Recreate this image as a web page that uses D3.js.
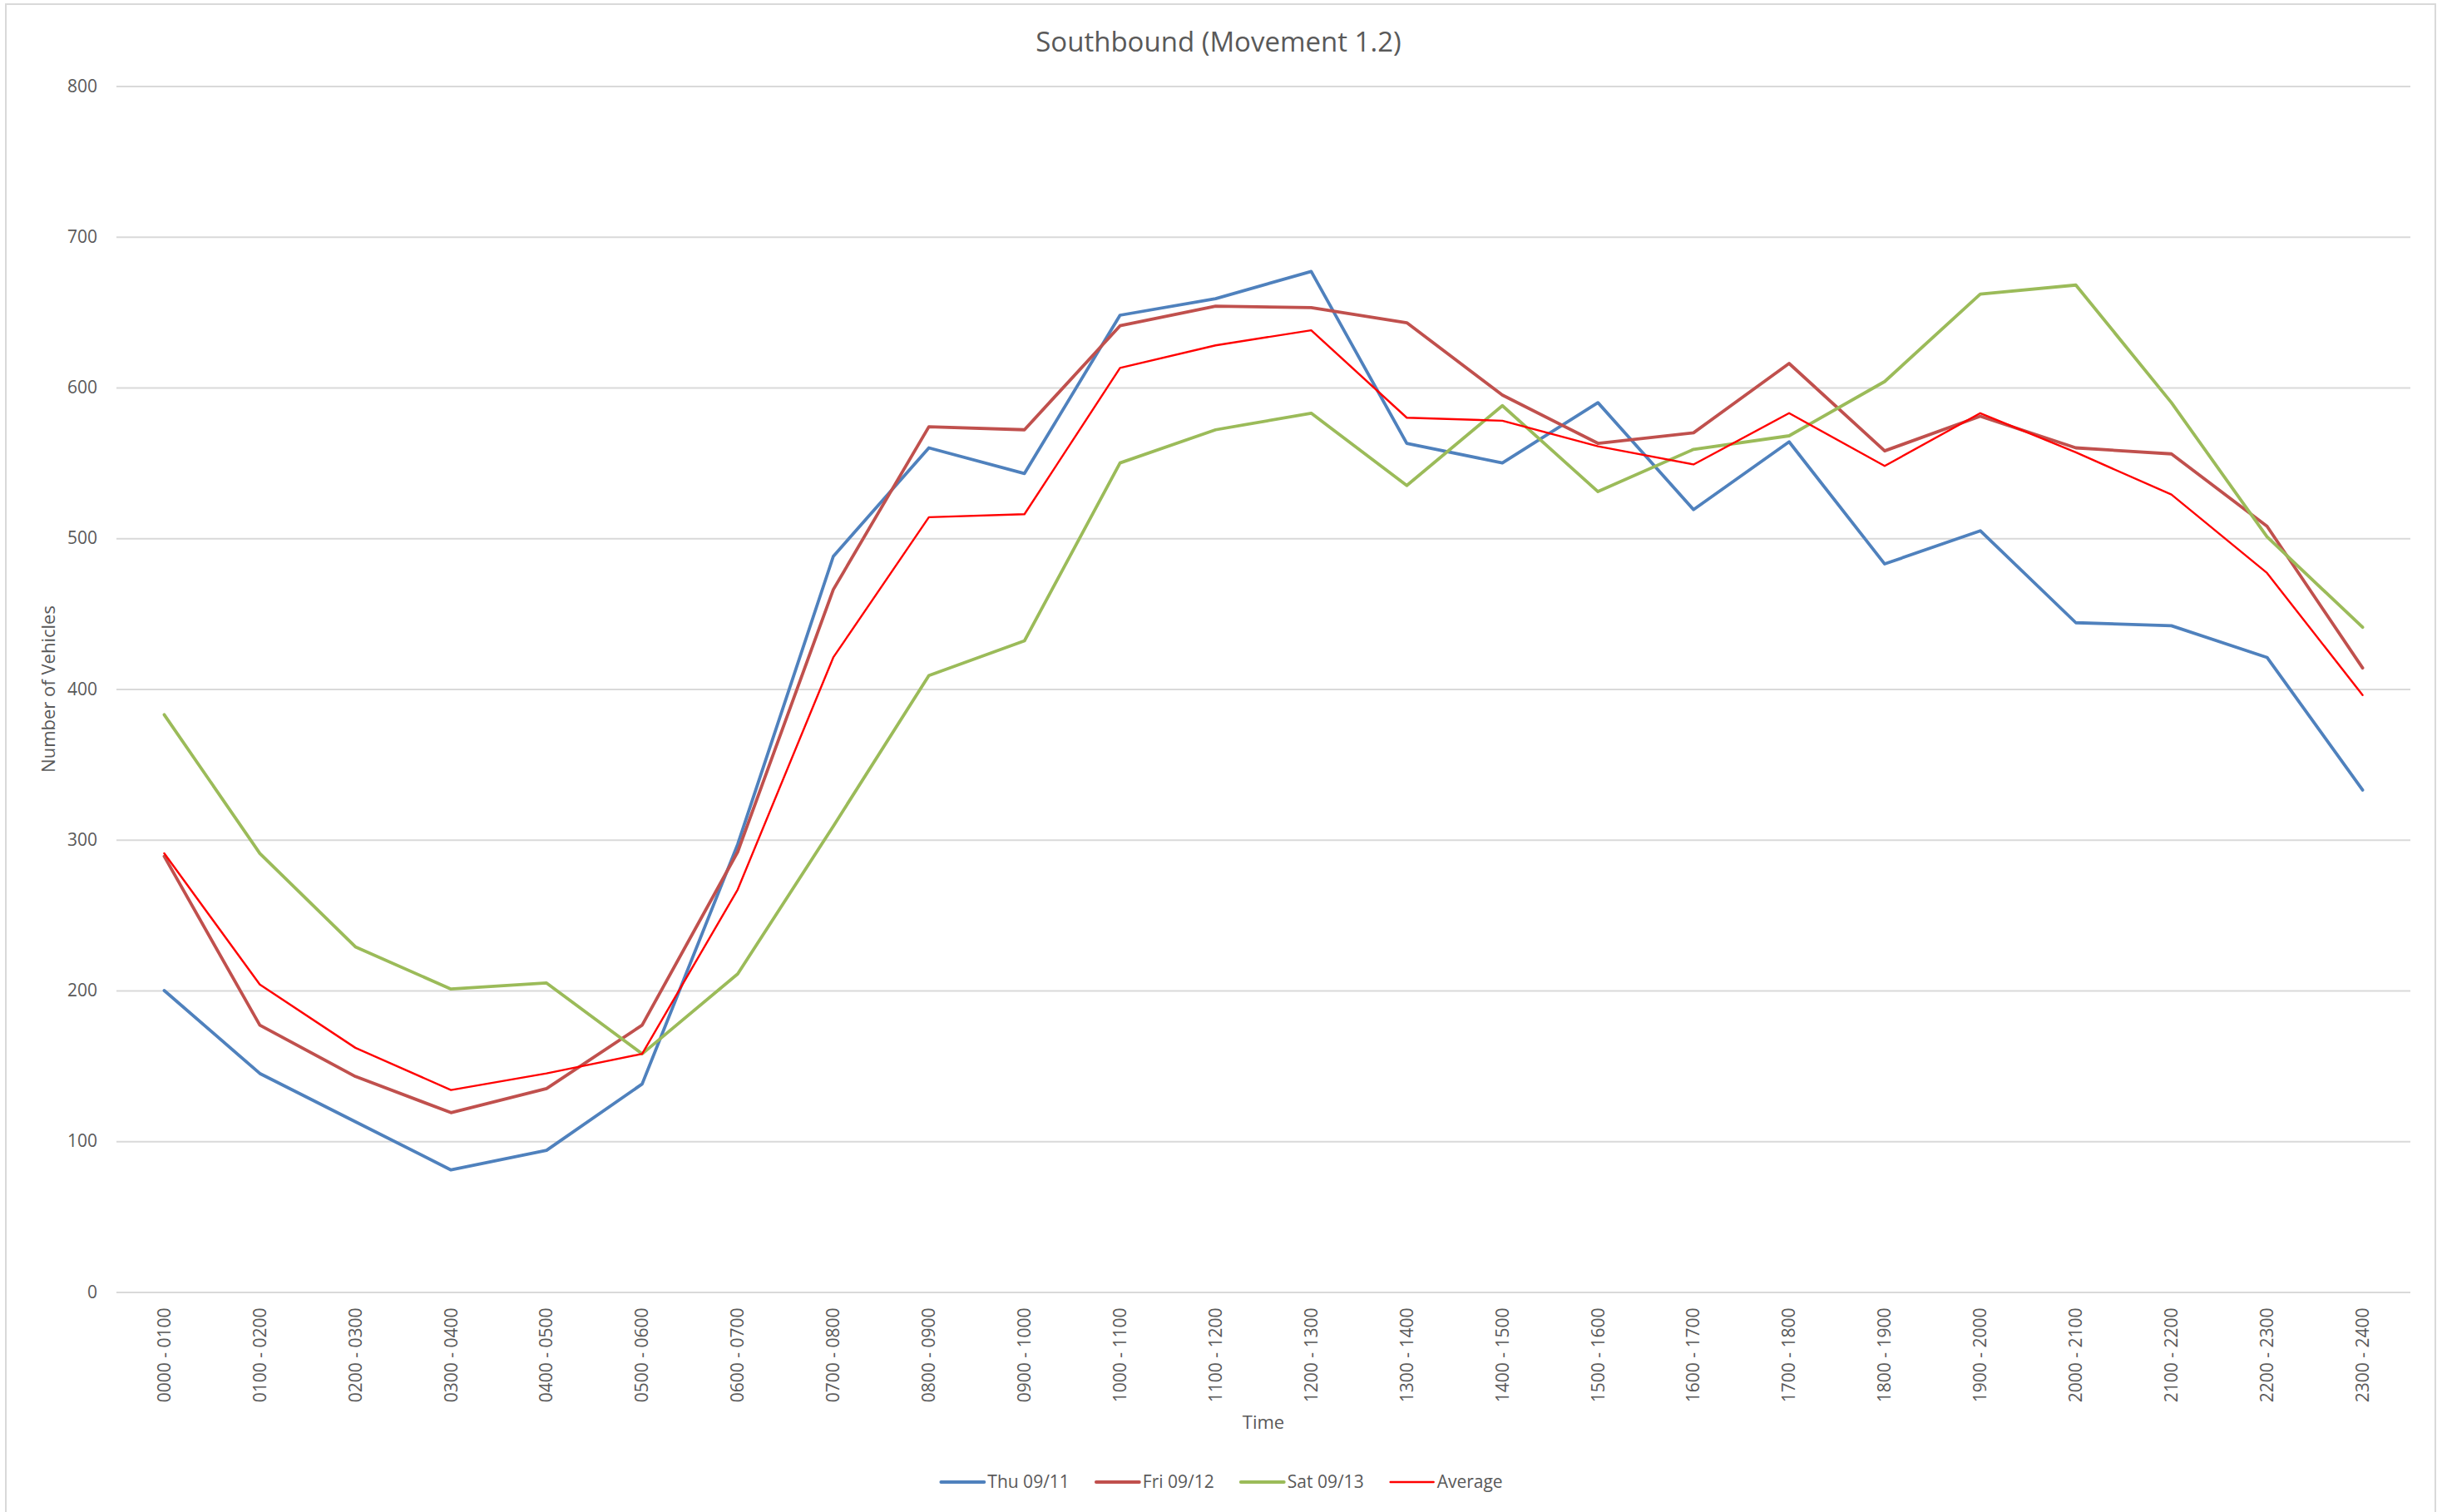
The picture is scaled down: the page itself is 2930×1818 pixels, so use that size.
<!DOCTYPE html>
<html>
<head>
<meta charset="utf-8">
<script src="https://cdn.jsdelivr.net/npm/d3@7"></script>
<style>
  html, body { margin: 0; padding: 0; background: #fff; }
  svg { display: block; font-family: "Open Sans", "Noto Sans", sans-serif; }
</style>
</head>
<body>
<svg id="chart" width="2930" height="1818"></svg>
<script>
// Hourly vehicle counts, southbound movement 1.2
const hours = [
  "0000 - 0100", "0100 - 0200", "0200 - 0300", "0300 - 0400", "0400 - 0500", "0500 - 0600",
  "0600 - 0700", "0700 - 0800", "0800 - 0900", "0900 - 1000", "1000 - 1100", "1100 - 1200",
  "1200 - 1300", "1300 - 1400", "1400 - 1500", "1500 - 1600", "1600 - 1700", "1700 - 1800",
  "1800 - 1900", "1900 - 2000", "2000 - 2100", "2100 - 2200", "2200 - 2300", "2300 - 2400"
];
const thu = [200, 145, 113, 81, 94, 138, 297, 488, 560, 543, 648, 659, 677, 563, 550, 590, 519, 564, 483, 505, 444, 442, 421, 333];
const fri = [289, 177, 143, 119, 135, 177, 292, 466, 574, 572, 641, 654, 653, 643, 595, 563, 570, 616, 558, 581, 560, 556, 508, 414];
const sat = [383, 291, 229, 201, 205, 158, 211, 309, 409, 432, 550, 572, 583, 535, 588, 531, 559, 568, 604, 662, 668, 590, 501, 441];
const average = [291, 204, 162, 134, 145, 158, 267, 421, 514, 516, 613, 628, 638, 580, 578, 561, 549, 583, 548, 583, 557, 529, 477, 396];
const seriesNames = ["Thu 09/11", "Fri 09/12", "Sat 09/13", "Average"];
const yTicks = [0, 100, 200, 300, 400, 500, 600, 700, 800];

const series = [
  { name: seriesNames[0], values: thu, color: "#4F81BD", width: 3.8 },
  { name: seriesNames[1], values: fri, color: "#C0504D", width: 3.8 },
  { name: seriesNames[2], values: sat, color: "#9BBB59", width: 3.8 },
  { name: seriesNames[3], values: average, color: "#FF0000", width: 2.4 }
];

const W = 2930, H = 1818;
const plot = { left: 140, right: 2898, top: 103.5, bottom: 1553.5 };
const textColor = "#595959";
const gridColor = "#D9D9D9";

const svg = d3.select("#chart");
svg.append("rect").attr("width", W).attr("height", H).attr("fill", "#fff");

// chart area border
svg.append("rect")
  .attr("x", 7).attr("y", 5)
  .attr("width", 2921).attr("height", 1830)
  .attr("fill", "none").attr("stroke", gridColor).attr("stroke-width", 2);

const x = d3.scaleBand().domain(hours).range([plot.left, plot.right]).padding(0);
const y = d3.scaleLinear().domain([0, 800]).range([plot.bottom, plot.top]);
const cx = h => x(h) + x.bandwidth() / 2;

// value axis with horizontal gridlines
const yAxis = svg.append("g")
  .attr("transform", `translate(${plot.left},0)`)
  .call(d3.axisLeft(y).tickValues(yTicks).tickSize(-(plot.right - plot.left)).tickPadding(23).tickFormat(d3.format("d")));
yAxis.select(".domain").remove();
yAxis.selectAll(".tick line").attr("stroke", gridColor).attr("stroke-width", 2);
yAxis.selectAll(".tick text")
  .attr("fill", textColor).style("font-size", "21px")
  .style("font-family", "'Open Sans', sans-serif");

// category axis with rotated labels
const xAxis = svg.append("g")
  .attr("transform", `translate(0,${plot.bottom})`)
  .call(d3.axisBottom(x).tickSize(0));
xAxis.select(".domain").remove();
xAxis.selectAll(".tick text")
  .attr("fill", textColor).style("font-size", "21px")
  .style("font-family", "'Open Sans', sans-serif")
  .attr("transform", "rotate(-90)")
  .attr("x", -19).attr("y", 0).attr("dy", "0.35em")
  .style("text-anchor", "end");

// series lines
const line = d3.line()
  .x((d, i) => cx(hours[i]))
  .y(d => y(d));

svg.append("g").selectAll("path")
  .data(series)
  .join("path")
  .attr("d", s => line(s.values))
  .attr("fill", "none")
  .attr("stroke", s => s.color)
  .attr("stroke-width", s => s.width)
  .attr("stroke-linejoin", "round")
  .attr("stroke-linecap", "round");

// title
svg.append("text")
  .attr("x", 1465).attr("y", 62)
  .attr("text-anchor", "middle")
  .attr("fill", textColor)
  .style("font-size", "33px")
  .text("Southbound (Movement 1.2)");

// axis titles
svg.append("text")
  .attr("x", (plot.left + plot.right) / 2).attr("y", 1718)
  .attr("text-anchor", "middle")
  .attr("fill", textColor)
  .style("font-size", "22px")
  .text("Time");

svg.append("text")
  .attr("transform", `translate(66,${(plot.top + plot.bottom) / 2}) rotate(-90)`)
  .attr("text-anchor", "middle")
  .attr("fill", textColor)
  .style("font-size", "22px")
  .text("Number of Vehicles");

// legend
const legend = svg.append("g");
const items = legend.selectAll("g").data(series).join("g");
items.append("line")
  .attr("x1", 0).attr("x2", 52).attr("y1", 0).attr("y2", 0)
  .attr("stroke", s => s.color)
  .attr("stroke-width", s => s.width)
  .attr("stroke-linecap", "round");
items.append("text")
  .attr("x", 56).attr("y", 0).attr("dy", "0.35em")
  .attr("fill", textColor)
  .style("font-size", "21px")
  .text(s => s.name);

let offset = 0;
const widths = [];
items.each(function () {
  const tw = d3.select(this).select("text").node().getComputedTextLength();
  widths.push(56 + tw);
});
const gap = 32;
const total = d3.sum(widths) + gap * (widths.length - 1);
const startX = 1469 - total / 2;
items.attr("transform", (s, i) => {
  const tx = startX + offset;
  offset += widths[i] + gap;
  return `translate(${tx},1782)`;
});
</script>
</body>
</html>
